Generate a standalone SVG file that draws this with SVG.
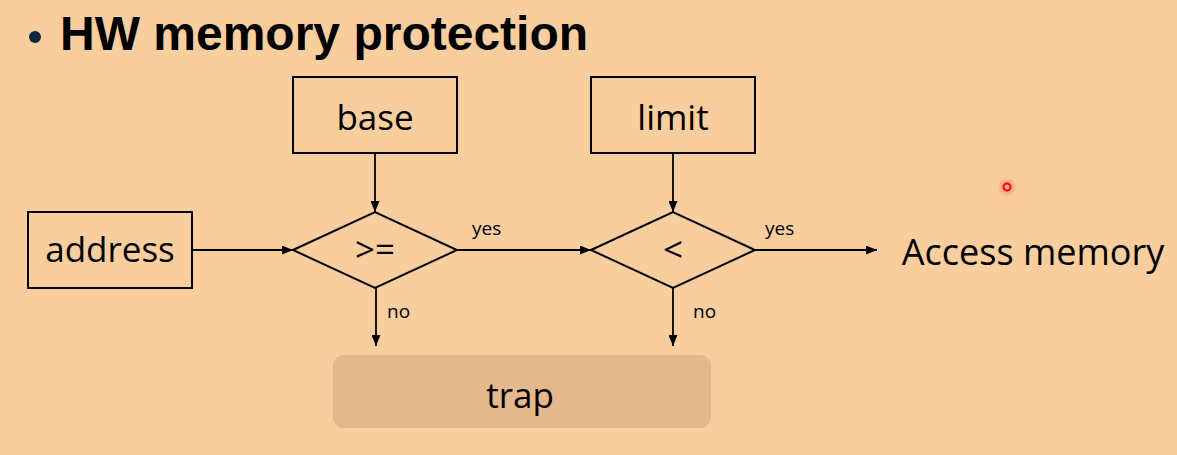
<svg xmlns="http://www.w3.org/2000/svg" width="1177" height="455" viewBox="0 0 1177 455">
<defs>
<marker id="arr" viewBox="0 0 11 9" refX="11" refY="4.5" markerWidth="11" markerHeight="9" markerUnits="userSpaceOnUse" orient="auto">
<path d="M0,0 L11,4.5 L0,9 Z" fill="#000"/>
</marker>
<radialGradient id="glow"><stop offset="0" stop-color="#ff3030" stop-opacity="0.5"/><stop offset="1" stop-color="#ff3030" stop-opacity="0"/></radialGradient>
</defs>
<style>
.box{fill:none;stroke:#000;stroke-width:2}
.lbl{font-family:"Open Sans","Noto Sans",sans-serif;font-size:35px;fill:#000;text-anchor:middle}
.small{font-family:"Open Sans","Noto Sans",sans-serif;font-size:19px;fill:#000}
.conn{stroke:#000;stroke-width:1.8;fill:none;marker-end:url(#arr)}
</style>
<rect width="1177" height="455" fill="#F9CE9E"/>
<g id="title">
<circle cx="35" cy="37" r="6" fill="#0E2741"/>
<text x="60" y="50" font-family="Liberation Sans, Arial, sans-serif" font-weight="bold" font-size="48" fill="#000">HW memory protection</text>
</g>
<g id="base"><rect class="box" x="293" y="77" width="164" height="76"/><text class="lbl" x="375" y="130">base</text></g>
<g id="limit"><rect class="box" x="591" y="77" width="164" height="76"/><text class="lbl" x="673" y="130">limit</text></g>
<g id="address"><rect class="box" x="28" y="212" width="164" height="76"/><text class="lbl" x="110" y="262">address</text></g>
<g id="ge"><polygon class="box" points="293,250 375,212 457,250 375,288"/><text class="lbl" x="375" y="262">&gt;=</text></g>
<g id="lt"><polygon class="box" points="591,250 673,212 755,250 673,288"/><text class="lbl" x="673" y="262">&lt;</text></g>
<g id="access"><text class="lbl" x="1033" y="265" style="font-size:36px">Access memory</text></g>
<g id="trap"><rect x="333" y="355" width="378" height="73" rx="11" fill="#E4B78C"/><text class="lbl" x="520" y="408">trap</text></g>
<g id="connectors">
<line class="conn" x1="375" y1="153" x2="375" y2="212"/>
<line class="conn" x1="673" y1="153" x2="673" y2="212"/>
<line class="conn" x1="192" y1="250" x2="293" y2="250"/>
<line class="conn" x1="457" y1="250" x2="591" y2="250"/>
<line class="conn" x1="755" y1="250" x2="877" y2="250"/>
<line class="conn" x1="376" y1="288" x2="376" y2="346"/>
<line class="conn" x1="673" y1="288" x2="673" y2="346"/>
<text class="small" x="472" y="235">yes</text>
<text class="small" x="765" y="235">yes</text>
<text class="small" x="387" y="318">no</text>
<text class="small" x="693" y="318">no</text>
</g>
<g id="pointer"><circle cx="1007" cy="187" r="10" fill="url(#glow)"/><circle cx="1007" cy="187" r="3.5" fill="#ffb0a0" stroke="#ff0000" stroke-width="2"/></g>
</svg>
